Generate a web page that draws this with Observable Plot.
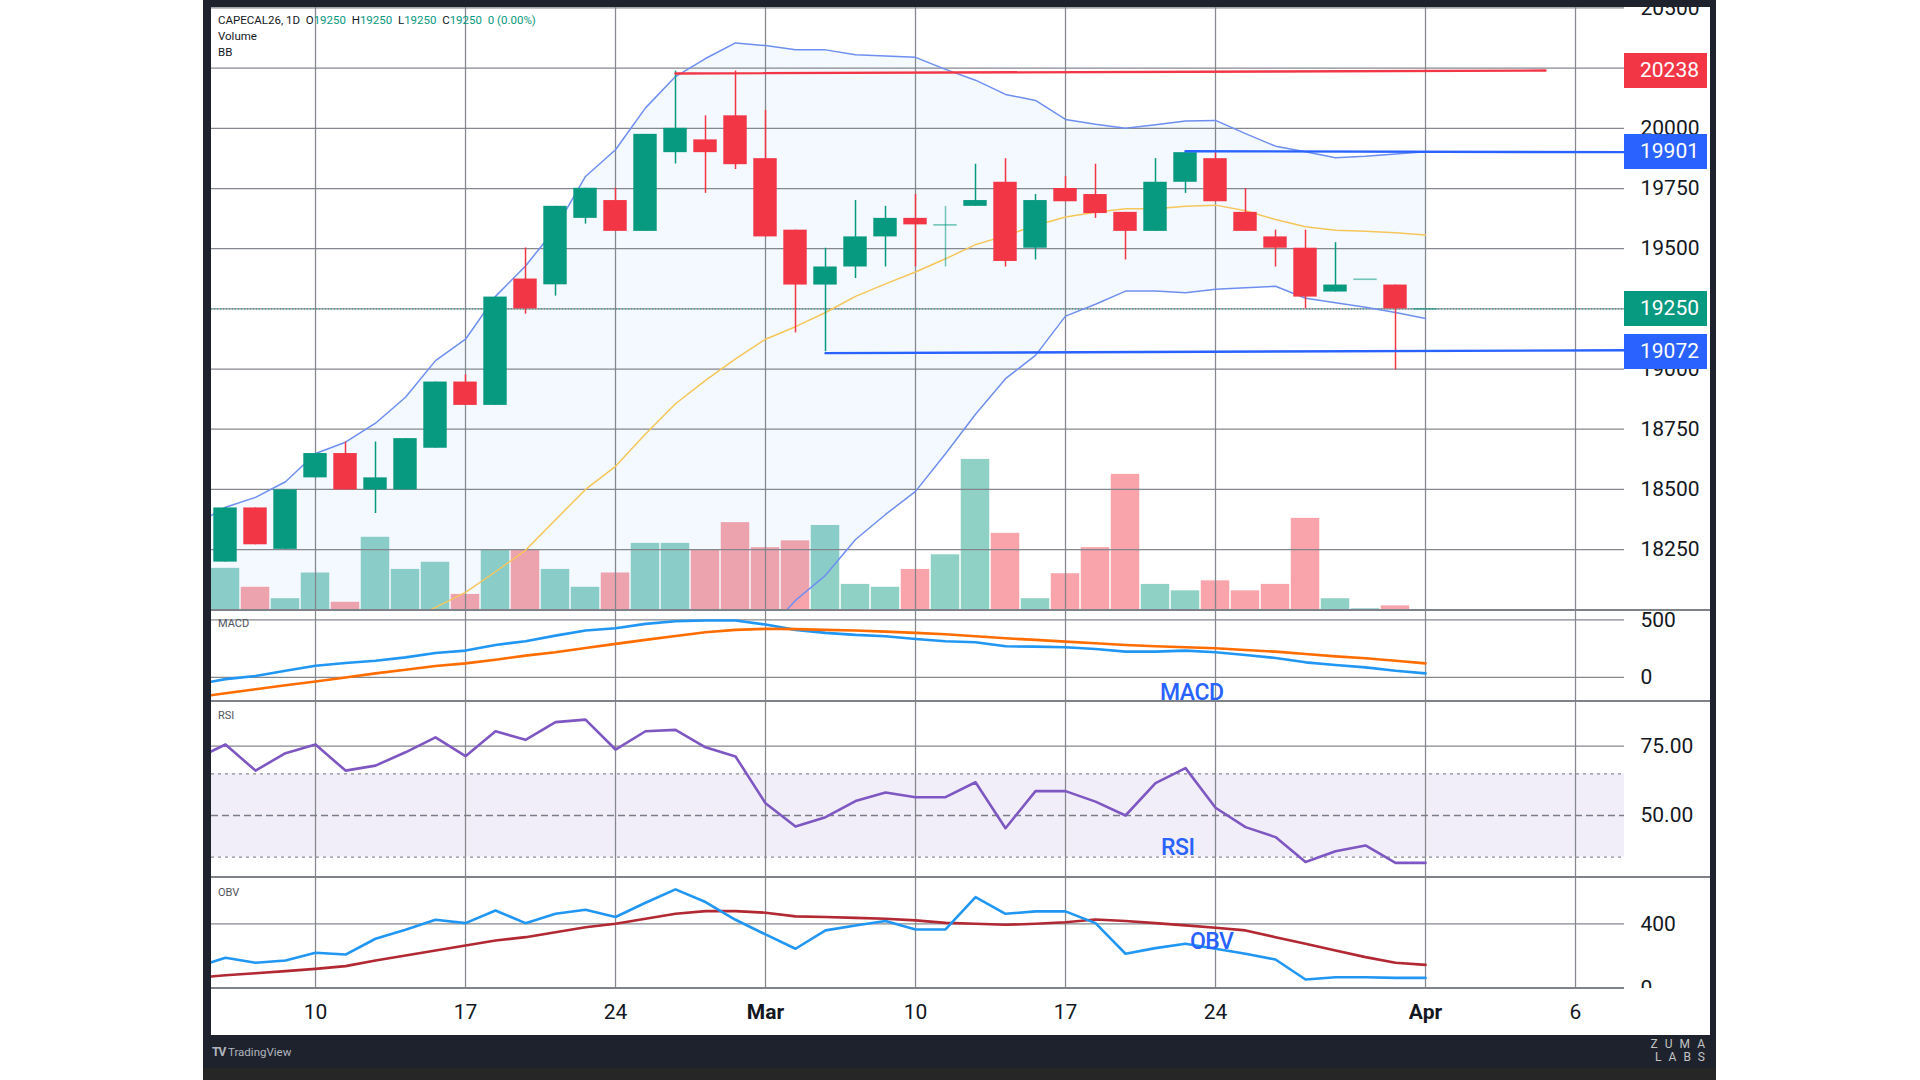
<!DOCTYPE html>
<html>
<head>
<meta charset="utf-8">
<script src="https://cdn.jsdelivr.net/npm/d3@7"></script>
<script src="https://cdn.jsdelivr.net/npm/@observablehq/plot@0.6"></script>
<style>
  html, body { margin: 0; padding: 0; background: #ffffff; }
  #root { position: relative; width: 1920px; height: 1080px; overflow: hidden; background: #ffffff; font-family: Roboto, "Noto Sans", sans-serif; }
  .abs { position: absolute; }
  .tag { position: absolute; left: 1624px; width: 83px; height: 35px; line-height: 35px; color: #ffffff; font-size: 21px; padding-left: 16px; box-sizing: border-box; z-index: 7; }
  .note { position: absolute; color: #2962FF; font-size: 23px; font-weight: 500; letter-spacing: -0.5px; z-index: 7; line-height: 1; }
  .pane-title { position: absolute; left: 218px; font-size: 11px; color: #50535e; z-index: 7; }
</style>
</head>
<body>
<div id="root"></div>
<script>
// ---------------- DATA ----------------
// candle index: 0 = first visible session; date ticks are placed on indexes
const candleIdx = d3.range(0, 41);
const opens  = [18198,18423,18251,18548,18649,18498,18498,18671,18946,18849,19374,19350,19626,19700,19572,19899,19952,20052,19874,19577,19349,19424,19549,19626,19599,19676,19776,19502,19750,19725,19651,19572,19776,19874,19651,19549,19502,19320,19373,19349,19250];
const highs  = [18423,18423,18498,18649,18697,18697,18711,18946,18976,19299,19503,19676,19751,19751,19975,20238,20052,20238,20074,19577,19502,19700,19676,19725,19676,19851,19874,19725,19800,19851,19651,19874,19901,19899,19750,19577,19577,19525,19373,19349,19250];
const lows   = [18198,18270,18251,18548,18498,18400,18498,18671,18849,18849,19228,19303,19602,19572,19572,19852,19730,19829,19549,19150,19072,19376,19424,19424,19424,19676,19424,19453,19695,19626,19453,19572,19730,19695,19572,19424,19250,19320,19373,18997,19250];
const closes = [18423,18270,18498,18649,18498,18548,18711,18946,18849,19299,19250,19676,19751,19572,19975,20000,19899,19849,19549,19349,19424,19549,19626,19599,19599,19700,19447,19700,19695,19646,19572,19776,19899,19695,19572,19502,19299,19349,19373,19250,19250];
const volumes = [118,65,33,105,23,205,115,135,45,168,168,115,65,105,188,188,168,246,176,195,238,73,65,115,156,423,216,33,103,176,381,73,55,83,55,73,258,33,5,13,3];

// indicator index starts one session earlier (off the left edge)
const indIdx = d3.range(-1, 41);
const bbUpper = [18354,18426,18467,18532,18649,18696,18775,18883,19035,19124,19302,19428,19584,19800,19911,20085,20215,20290,20355,20344,20326,20326,20306,20301,20295,20245,20200,20141,20116,20037,20017,20000,20015,20030,20033,19978,19926,19903,19878,19884,19893,19903];
const bbMid   = [17560,17610,17660,17715,17770,17830,17890,17950,18010,18072,18158,18247,18374,18500,18596,18730,18856,18953,19042,19124,19176,19235,19302,19354,19403,19458,19517,19554,19596,19632,19651,19666,19666,19676,19681,19658,19621,19591,19577,19572,19566,19557];
const bbLower = [16766,16794,16853,16898,16891,16964,17005,17017,16985,17020,17014,17066,17166,17200,17281,17375,17497,17616,17729,17904,18039,18143,18292,18396,18492,18648,18812,18960,19057,19220,19269,19324,19324,19317,19332,19338,19344,19294,19275,19257,19235,19210];
const macdValues   = [-62,-15,12,58,102,125,145,174,212,233,282,314,363,407,427,465,488,494,494,459,413,387,369,358,334,314,305,270,267,262,247,224,224,233,218,195,169,131,108,87,58,35];
const signalValues = [-172,-138,-102,-68,-35,0,35,67,99,122,154,189,218,256,291,326,360,392,413,422,419,413,407,398,387,375,358,340,326,311,297,282,270,262,253,238,224,203,183,166,145,122];
const rsiValues = [70.4,75.6,66.2,72.5,75.6,66.2,68.0,72.8,78.2,71.4,80.4,77.3,83.7,84.6,73.8,80.4,80.9,74.6,71.3,54.4,46.0,49.4,55.2,58.3,56.6,56.6,62.0,45.4,58.8,58.8,55.0,50.0,61.7,67.1,52.8,45.8,42.2,33.2,37.1,39.2,32.9,32.9];
const obvValues = [130,189,158,172,220,209,307,363,425,404,483,404,462,487,442,531,614,535,425,334,245,359,390,417,365,365,566,462,477,477,404,214,249,276,245,214,178,54,68,68,64,64];
const obvMAValues = [65,80,93,106,120,137,172,203,234,265,296,317,348,379,400,431,462,479,479,469,446,442,437,431,421,406,400,394,400,410,427,417,404,390,375,359,317,276,234,193,158,145];

// axis ticks
const tickIdx = [3, 8, 13, 18, 23, 28, 33, 40, 45];
const tickLabels = ["10", "17", "24", "Mar", "10", "17", "24", "Apr", "6"];
const priceGrid = [18000, 18250, 18500, 18750, 19000, 19250, 19500, 19750, 20000, 20250, 20500];
const priceTicks = [18250, 18500, 18750, 19000, 19250, 19500, 19750, 20000, 20250, 20500];
const macdTicks = [0, 500];
const rsiTicks = [50, 75];
const rsiBand = [35, 65];
const obvTicks = [0, 400];
const lastPrice = 19250;

// drawn horizontal levels: [start index, start price, end index, end price]
const X_DOMAIN = [-0.467, 46.633];
const levelNames  = ["res", "upper", "support"];
const levelColors = ["#F23645", "#2962FF", "#2962FF"];
const levelStartIdx = [15, 32, 20];
const levelStartVal = [20228, 19905, 19066];
const levelEndIdx   = [44, X_DOMAIN[1], X_DOMAIN[1]];
const levelEndVal   = [20240, 19901, 19078];

// price tags on the right scale
const tagValues = [20238, 19901, 19250, 19072];
const tagColors = ["#F23645", "#2962FF", "#089981", "#2962FF"];

// ---------------- BUILD ----------------
const UP = "#089981", DOWN = "#F23645", DOJI = "rgba(8,153,129,0.55)";
const root = document.getElementById("root");

const candles = candleIdx.map((i, k) => ({
  i, open: opens[k], high: highs[k], low: lows[k], close: closes[k], vol: volumes[k],
  color: closes[k] > opens[k] ? UP : closes[k] < opens[k] ? DOWN : DOJI,
  volColor: closes[k] >= opens[k] ? UP : DOWN
}));
const ind = indIdx.map((i, k) => ({
  i, upper: bbUpper[k], mid: bbMid[k], lower: bbLower[k],
  macd: macdValues[k], signal: signalValues[k], rsi: rsiValues[k], obv: obvValues[k], obvMA: obvMAValues[k]
}));
const levels = levelNames.flatMap((name, k) => [
  {id: name, color: levelColors[k], i: levelStartIdx[k], v: levelStartVal[k]},
  {id: name, color: levelColors[k], i: levelEndIdx[k], v: levelEndVal[k]}
]);
const dateTicks = tickIdx.map((i, k) => ({i, label: tickLabels[k], month: isNaN(+tickLabels[k])}));

const GRID = {stroke: "#7f8289", strokeOpacity: 0.95, strokeWidth: 1.25};
const AXIS = {anchor: "right", tickSize: 0, tickPadding: 16, label: null, fontSize: 21};

function base(height, extra) {
  return Object.assign({
    width: 1920, height,
    marginLeft: 211, marginRight: 296, marginTop: 0, marginBottom: 0,
    x: {type: "linear", domain: X_DOMAIN, axis: null},
    color: {type: "identity"},
    style: {background: "transparent", color: "#131722", fontFamily: "Roboto, sans-serif", fontSize: "21px", overflow: "visible"}
  }, extra);
}
function place(el, top, z, parent) {
  el.style.position = "absolute";
  el.style.left = "0px";
  el.style.top = top + "px";
  el.style.zIndex = z;
  (parent || root).appendChild(el);
  return el;
}

// volume (underneath price pane)
const volPlot = Plot.plot(base(612, {
  marginTop: 7, marginBottom: 2,
  y: {domain: [0, 1688], axis: null},
  marks: [
    Plot.rect(candles, {x1: d => d.i - 0.475, x2: d => d.i + 0.475, y1: 0, y2: "vol", fill: "volColor", fillOpacity: 0.45})
  ]
}));
place(volPlot, 0, 1);

// price pane
const pricePlot = Plot.plot(base(612, {
  marginTop: 7, marginBottom: 2,
  y: {domain: [17997, 20502], axis: null},
  marks: [
    Plot.areaY(ind, {x: "i", y1: "lower", y2: "upper", fill: "#2196F3", fillOpacity: 0.055, clip: true}),
    Plot.gridY(priceGrid, GRID),
    Plot.gridX(tickIdx, GRID),
    Plot.ruleY([lastPrice], {stroke: UP, strokeOpacity: 0.7, strokeDasharray: "1,2", strokeWidth: 1.2}),
    Plot.line(ind, {x: "i", y: "upper", stroke: "#6F8FF0", strokeWidth: 1.5, clip: true}),
    Plot.line(ind, {x: "i", y: "lower", stroke: "#6F8FF0", strokeWidth: 1.5, clip: true}),
    Plot.line(ind, {x: "i", y: "mid", stroke: "#F6C65B", strokeWidth: 1.5, clip: true}),
    Plot.ruleX(candles, {x: "i", y1: "low", y2: "high", stroke: "color", strokeWidth: 1.5}),
    Plot.rect(candles.filter(d => d.open !== d.close), {x1: d => d.i - 0.39, x2: d => d.i + 0.39, y1: "open", y2: "close", fill: "color"}),
    Plot.ruleY(candles.filter(d => d.open === d.close), {x1: d => d.i - 0.39, x2: d => d.i + 0.39, y: "close", stroke: "color", strokeWidth: 1.6}),
    Plot.line(levels, {x: "i", y: "v", z: "id", stroke: "color", strokeWidth: 2.4}),
    Plot.axisY({...AXIS, ticks: priceTicks, tickFormat: d => String(d)})
  ]
}));
place(pricePlot, 0, 2);

// MACD pane
const macdPlot = Plot.plot(base(91, {
  y: {domain: [-209, 581], axis: null},
  marks: [
    Plot.gridY(macdTicks, GRID),
    Plot.gridX(tickIdx, GRID),
    Plot.line(ind, {x: "i", y: "macd", stroke: "#2196F3", strokeWidth: 2.6, clip: true}),
    Plot.line(ind, {x: "i", y: "signal", stroke: "#FF6D00", strokeWidth: 2.6, clip: true}),
    Plot.axisY({...AXIS, ticks: macdTicks, tickFormat: d => String(d)})
  ]
}));
place(macdPlot, 610, 2);

// RSI pane
const rsiPlot = Plot.plot(base(176, {
  y: {domain: [27.63, 91.13], axis: null},
  marks: [
    Plot.rect([rsiBand], {y1: d => d[0], y2: d => d[1], fill: "#7E57C2", fillOpacity: 0.1}),
    Plot.gridY([rsiTicks[1]], GRID),
    Plot.gridX(tickIdx, GRID),
    Plot.ruleY(rsiBand, {stroke: "#8a8d95", strokeDasharray: "3,4", strokeWidth: 1.2}),
    Plot.ruleY([rsiTicks[0]], {stroke: "#7a7d85", strokeDasharray: "7,4", strokeWidth: 1.4}),
    Plot.line(ind, {x: "i", y: "rsi", stroke: "#7E57C2", strokeWidth: 2.6, clip: true}),
    Plot.axisY({...AXIS, ticks: rsiTicks, tickFormat: d => d.toFixed(2)})
  ]
}));
place(rsiPlot, 701, 2);

// OBV pane (clipped so the "0" label is cut like the original)
const obvWrap = document.createElement("div");
obvWrap.style.cssText = "position:absolute;left:0;top:877px;width:1920px;height:111px;overflow:hidden;z-index:2;";
root.appendChild(obvWrap);
const obvPlot = Plot.plot(base(111, {
  y: {domain: [-1.9, 687.6], axis: null},
  marks: [
    Plot.gridY(obvTicks, GRID),
    Plot.gridX(tickIdx, GRID),
    Plot.line(ind, {x: "i", y: "obvMA", stroke: "#B22833", strokeWidth: 2.6, clip: true}),
    Plot.line(ind, {x: "i", y: "obv", stroke: "#2196F3", strokeWidth: 2.6, clip: true}),
    Plot.axisY({...AXIS, ticks: obvTicks, tickFormat: d => String(d)})
  ]
}));
place(obvPlot, 0, 2, obvWrap);

// date axis
const axisPlot = Plot.plot(base(47, {
  marks: [
    Plot.text(dateTicks.filter(d => !d.month), {x: "i", text: "label", frameAnchor: "middle", fontSize: 21, fill: "#131722"}),
    Plot.text(dateTicks.filter(d => d.month), {x: "i", text: "label", frameAnchor: "middle", fontSize: 21, fontWeight: "bold", fill: "#131722"})
  ]
}));
place(axisPlot, 988, 2);

// price tags positioned with the price scale
const yPrice = pricePlot.scale("y");
tagValues.forEach((v, k) => {
  const t = document.createElement("div");
  t.className = "tag";
  t.style.background = tagColors[k];
  t.style.top = (yPrice.apply(v) - 17.5) + "px";
  t.textContent = String(v);
  root.appendChild(t);
});

// ---------------- FRAME / DECORATION ----------------
function box(css) { const d = document.createElement("div"); d.className = "abs"; d.style.cssText += css; root.appendChild(d); return d; }
// pane separators
box("left:211px;top:609px;width:1499px;height:2px;background:#7f8289;z-index:5;");
box("left:211px;top:700px;width:1499px;height:2px;background:#7f8289;z-index:5;");
box("left:211px;top:876px;width:1499px;height:2px;background:#7f8289;z-index:5;");
box("left:211px;top:987px;width:1413px;height:1.5px;background:#7f8289;z-index:5;");
// dark screenshot frame
box("left:203px;top:0;width:1513px;height:7px;background:#1E222D;z-index:10;");
box("left:203px;top:0;width:8px;height:1080px;background:#1E222D;z-index:10;");
box("left:1710px;top:0;width:6px;height:1080px;background:#1E222D;z-index:10;");
box("left:203px;top:1035px;width:1513px;height:33px;background:#1E222D;z-index:10;");
box("left:203px;top:1068px;width:1513px;height:12px;background:#262626;z-index:10;");

// header legend
const hdr = box("left:218px;top:12px;font-size:11.5px;color:#131722;z-index:7;line-height:16px;white-space:nowrap;");
hdr.innerHTML = 'CAPECAL26, 1D&nbsp;&nbsp;O<span style="color:#089981">19250</span>&nbsp;&nbsp;H<span style="color:#089981">19250</span>&nbsp;&nbsp;L<span style="color:#089981">19250</span>&nbsp;&nbsp;C<span style="color:#089981">19250</span>&nbsp;&nbsp;<span style="color:#089981">0 (0.00%)</span><br>Volume<br>BB';

// pane titles
const pt1 = box("top:617px;"); pt1.className = "pane-title"; pt1.textContent = "MACD";
const pt2 = box("top:709px;"); pt2.className = "pane-title"; pt2.textContent = "RSI";
const pt3 = box("top:886px;"); pt3.className = "pane-title"; pt3.textContent = "OBV";

// blue indicator notes
const n1 = box("left:1160px;top:681px;"); n1.className = "note"; n1.textContent = "MACD";
const n2 = box("left:1161px;top:836px;"); n2.className = "note"; n2.textContent = "RSI";
const n3 = box("left:1190px;top:930px;"); n3.className = "note"; n3.textContent = "OBV";

// footer branding
const tv = box("left:212px;top:1045px;font-size:11.5px;color:#b2b5be;z-index:11;white-space:nowrap;");
tv.innerHTML = '<b style="font-size:12px;letter-spacing:-1px">TV</b> TradingView';
const zl = box("left:1640px;top:1038px;width:72px;font-size:12px;line-height:13px;color:#c4c4c4;z-index:11;letter-spacing:7px;text-align:right;");
zl.innerHTML = 'ZUMA<br>LABS';
</script>
</body>
</html>
